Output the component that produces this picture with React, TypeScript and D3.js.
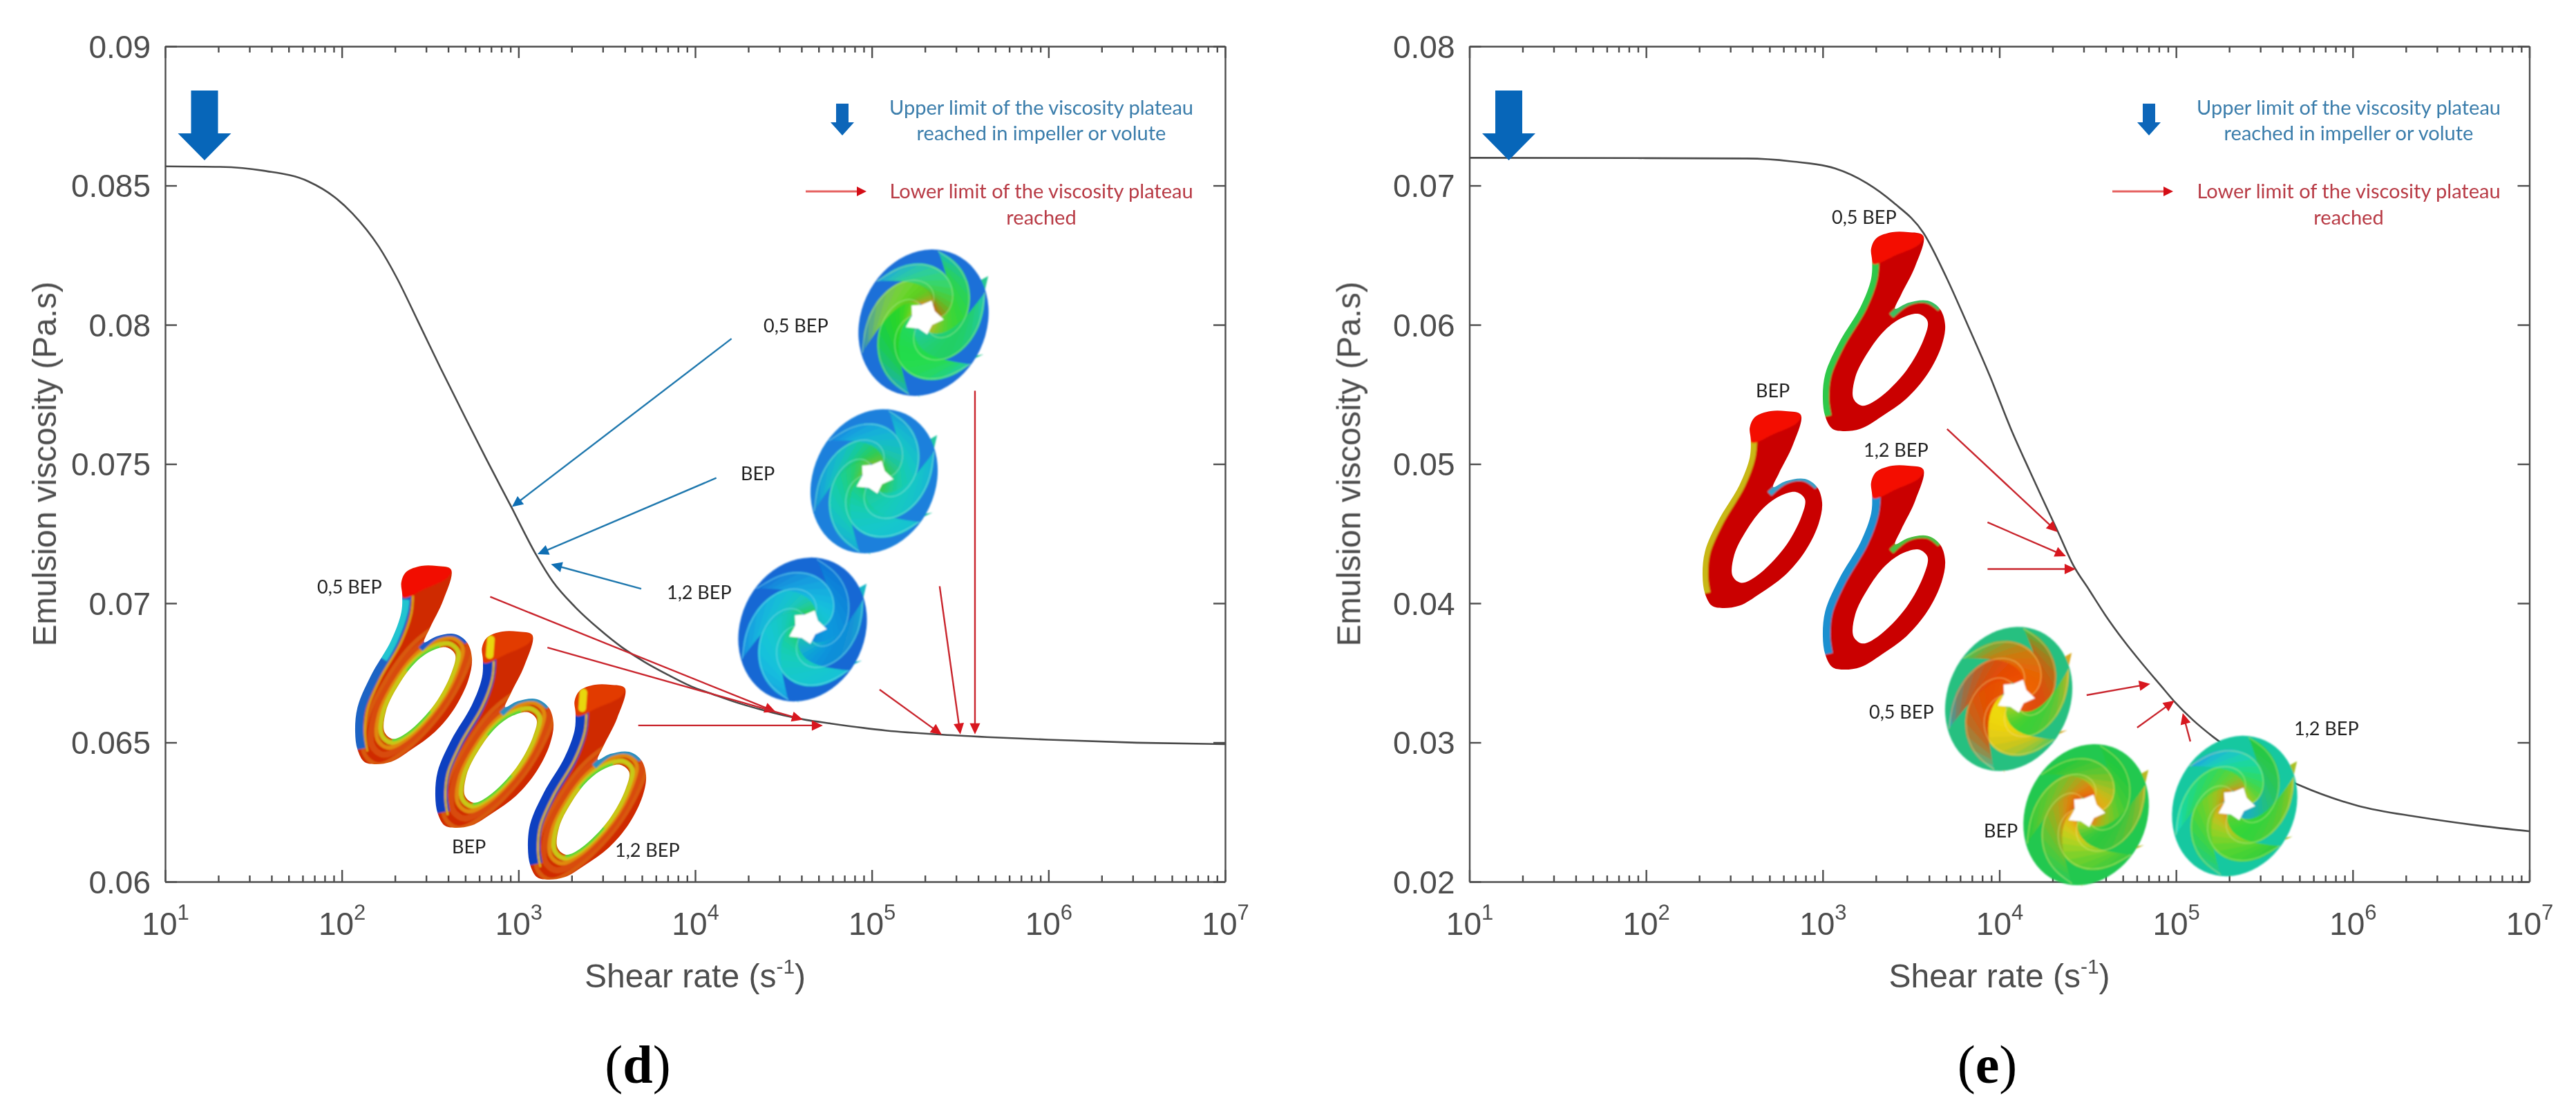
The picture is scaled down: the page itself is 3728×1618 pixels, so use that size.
import React, { useEffect, useRef } from 'react';
import * as d3 from 'd3';

// curve (d): log10 shear rate / viscosity
const logShearD = [1, 1.31, 1.56, 1.81, 1.96, 2.06, 2.21, 2.31, 2.43, 2.56, 2.7, 2.82, 2.96, 3.1, 3.194, 3.323, 3.455, 3.585, 3.714, 3.846, 3.976, 4.105, 4.237, 4.367, 4.496, 4.628, 4.758, 5.08, 5.4, 5.7, 6, 6.5, 7];
const viscosityD = [0.08569, 0.08567, 0.08553, 0.08515, 0.08458, 0.084, 0.0828, 0.0817, 0.08014, 0.07843, 0.07665, 0.07515, 0.07345, 0.07174, 0.07078, 0.06985, 0.06908, 0.06842, 0.06789, 0.06743, 0.06702, 0.06672, 0.06643, 0.06619, 0.06598, 0.06581, 0.06569, 0.06543, 0.06528, 0.06518, 0.0651, 0.06499, 0.06494];
// curve (e)
const logShearE = [1, 1.95, 2.57, 2.82, 3.07, 3.25, 3.4, 3.57, 3.7, 3.82, 3.95, 4.064, 4.169, 4.247, 4.338, 4.416, 4.507, 4.599, 4.703, 4.807, 4.912, 4.99, 5.094, 5.211, 5.7, 6.03, 6.37, 6.7, 7];
const viscosityE = [0.07199, 0.07197, 0.07194, 0.07174, 0.07123, 0.07017, 0.06878, 0.0666, 0.0634, 0.06, 0.0562, 0.05256, 0.04958, 0.04743, 0.04495, 0.04279, 0.04098, 0.03916, 0.03733, 0.03568, 0.03411, 0.03295, 0.03163, 0.03039, 0.02692, 0.02545, 0.02465, 0.02405, 0.02362];

const yTicksD = [0.06, 0.065, 0.07, 0.075, 0.08, 0.085, 0.09];
const yTicksE = [0.02, 0.03, 0.04, 0.05, 0.06, 0.07, 0.08];
const decades = [1e1, 1e2, 1e3, 1e4, 1e5, 1e6, 1e7];
const minorTicks = decades.slice(0, 6).flatMap(d => [2, 3, 4, 5, 6, 7, 8, 9].map(m => d * m));

// annotation arrows: [log10 shear, viscosity] start -> tip
type Arrow = number[];
const blueArrowsD: Arrow[] = [
  [4.206, 0.0795, 2.963, 0.07346],
  [4.12, 0.0745, 3.108, 0.07176],
  [3.695, 0.07052, 3.184, 0.0714],
];
const redArrowsD: Arrow[] = [
  [2.84, 0.07023, 4.456, 0.0661],
  [3.164, 0.06841, 4.61, 0.06582],
  [3.678, 0.06561, 4.723, 0.06561],
  [5.044, 0.0669, 5.396, 0.06528],
  [5.384, 0.07061, 5.501, 0.06529],
  [5.584, 0.07763, 5.584, 0.06529],
];
const redArrowsE: Arrow[] = [
  [3.704, 0.05251, 4.329, 0.04511],
  [3.933, 0.04581, 4.377, 0.04337],
  [3.933, 0.04246, 4.432, 0.04246],
  [4.494, 0.0334, 4.854, 0.03421],
  [4.78, 0.03107, 4.991, 0.033],
  [5.081, 0.03007, 5.038, 0.03211],
];

// outline of the volute casing, in its own 0..1 box
const voluteOuter = [[0.395, 0.083], [0.438, 0.03], [0.568, 0], [0.697, 0], [0.821, 0.018], [0.755, 0.172], [0.64, 0.314], [0.591, 0.385], [0.697, 0.355], [0.856, 0.344], [0.957, 0.385], [1, 0.465], [0.971, 0.571], [0.856, 0.713], [0.683, 0.837], [0.481, 0.926], [0.308, 0.988], [0.164, 1], [0.078, 0.988], [0.02, 0.926], [0, 0.837], [0.02, 0.713], [0.135, 0.553], [0.308, 0.376], [0.395, 0.234], [0.403, 0.145]];
const voluteHole = [[0.251, 0.837], [0.323, 0.872], [0.452, 0.837], [0.683, 0.695], [0.827, 0.535], [0.856, 0.447], [0.784, 0.411], [0.654, 0.429], [0.51, 0.491], [0.366, 0.606], [0.265, 0.73]];
const voluteCap = [[0.395, 0.083], [0.438, 0.03], [0.568, 0], [0.697, 0], [0.825, 0.018], [0.79, 0.06], [0.6, 0.115], [0.41, 0.16]];
const voluteSpine = [[0.41, 0.14], [0.395, 0.234], [0.308, 0.376], [0.135, 0.553], [0.02, 0.713], [0, 0.837], [0.02, 0.926]];
const voluteSpineTop = [[0.41, 0.17], [0.395, 0.234], [0.308, 0.376], [0.22, 0.47]];
const voluteRingTop = [[0.56, 0.42], [0.697, 0.355], [0.856, 0.344], [0.957, 0.385]];
const voluteBlob = [[0.47, 0.04], [0.46, 0.12]];

// spikes where the blades stick out past the shroud, as fractions of the impeller box
const bladeTips = [
  [[0.985, 0.19], [0.86, 0.25], [0.84, 0.52], [0.92, 0.44]],
  [[0.95, 0.71], [0.62, 0.76], [0.64, 0.84]],
  [[0.47, 0.995], [0.33, 0.84], [0.42, 0.85]],
];
const hubTeeth = [0.29, 0.2, 0.32, 0.18, 0.28, 0.2, 0.33, 0.19, 0.27, 0.2];

const font = 'Liberation Sans, Arial, sans-serif';
const noteFont = 'Lato, Open Sans, sans-serif';
const axisColor = '#4d4d4d';
const bigBlue = '#0766b9';
const lineBlue = '#1f78ae';
const lineRed = '#c9252d';

const closedLine = d3.line().curve(d3.curveCatmullRomClosed.alpha(0.5));
const openLine = d3.line().curve(d3.curveCatmullRom.alpha(0.5));
let clipCount = 0;

function drawVolute(g: any, box: number[], look: any) {
  const [x0, y0, w, h] = box;
  const sc = (pts: number[][]) => pts.map(([u, v]) => [x0 + u * w, y0 + v * h]) as [number, number][];
  const scaleAbout = (pts: number[][], k: number) => pts.map(([u, v]) => [0.55 + (u - 0.55) * k, 0.65 + (v - 0.65) * k]);
  const shape = closedLine(sc(voluteOuter)) + closedLine(sc(voluteHole));
  const id = `volute-${clipCount++}`;
  g.append('clipPath').attr('id', id).append('path').attr('d', shape).attr('clip-rule', 'evenodd');
  const v = g.append('g').attr('clip-path', `url(#${id})`).append('g').attr('filter', 'url(#soft)');
  v.append('rect').attr('x', x0 - 5).attr('y', y0 - 5).attr('width', w + 10).attr('height', h + 10).attr('fill', look.body);
  const stroke = (d: string, color: string, width: number) =>
    v.append('path').attr('d', d).attr('fill', 'none').attr('stroke', color).attr('stroke-width', width);
  if (look.bands) {
    const hole = (k: number) => closedLine(sc(scaleAbout(voluteHole, k)));
    stroke(hole(1.58), '#d85a0c', 6);
    stroke(hole(1.36), '#d84c08', 9);
    stroke(hole(1.2), '#e08a10', 6);
    stroke(hole(1.08), '#c8c818', 7);
    stroke(hole(1.02), '#58d838', 5).attr('stroke-dasharray', '70 120 60 160');
  }
  stroke(openLine(sc(voluteRingTop)), look.ringTop, look.ringWidth);
  stroke(openLine(sc(voluteSpine)), look.spine, look.spineWidth);
  if (look.spineInner) {
    stroke(openLine(sc(voluteSpine.map(([u, p]) => [u + 0.085, p + 0.01]))), look.spineInner, 3);
  }
  if (look.spineTop) stroke(openLine(sc(voluteSpineTop.map(([u, p]) => [u + 0.02, p]))), look.spineTop, 12);
  v.append('path').attr('d', closedLine(sc(voluteCap))).attr('fill', look.cap);
  if (look.blob) stroke(d3.line()(sc(voluteBlob)) as string, look.blob, 11).attr('stroke-linecap', 'round');
}

function drawImpeller(g: any, box: number[], hub: number[], look: any) {
  const [x0, y0, w, h] = box;
  const cx = x0 + w / 2, cy = y0 + h / 2;
  const wrap = g.append('g').attr('filter', 'url(#soft)');
  // tips first, they sit behind the rim edge
  bladeTips.forEach(tip => {
    wrap.append('path').attr('fill', look.tips)
      .attr('d', d3.line()(tip.map(([u, v]) => [x0 + u * w, y0 + v * h] as [number, number])) + 'Z');
  });
  const outer = wrap.append('g').attr('transform', `translate(${cx},${cy}) rotate(25)`);
  const a = h * 0.5, b = w * 0.47;
  outer.append('ellipse').attr('rx', b).attr('ry', a).attr('fill', look.rim);
  // hub position in the rotated frame
  const t = (25 * Math.PI) / 180;
  const dx = hub[0] - cx, dy = hub[1] - cy;
  const hx = dx * Math.cos(t) + dy * Math.sin(t);
  const hy = -dx * Math.sin(t) + dy * Math.cos(t);
  const bladeEdge = (start: number, p: number, side: number) => {
    const r = 0.18 + 0.8 * p;
    const ang = start - 2.15 * p + side * 0.66 * Math.sin(Math.PI * Math.min(1, p * 0.75 + 0.25));
    return [hx * (1 - p) + b * r * Math.cos(ang), hy * (1 - p) + a * r * Math.sin(ang)] as [number, number];
  };
  look.ramps.forEach((colors: string[], k: number) => {
    const start = (k * Math.PI) / 3 + 0.3;
    const paint = d3.interpolateRgbBasis(colors);
    for (let s = 0; s < 14; s++) {
      const wedge: [number, number][] = [];
      const p0 = s / 14, p1 = (s + 1.15) / 14;
      for (let i = 0; i <= 4; i++) wedge.push(bladeEdge(start, p0 + ((p1 - p0) * i) / 4, 1));
      for (let i = 4; i >= 0; i--) wedge.push(bladeEdge(start, p0 + ((p1 - p0) * i) / 4, -1));
      outer.append('path').attr('d', d3.line()(wedge) + 'Z').attr('fill', paint((s + 0.5) / 14));
    }
  });
  look.ramps.forEach((_: string[], k: number) => {
    const start = (k * Math.PI) / 3 + 0.3;
    const lip = d3.range(0, 1.01, 0.1).map(p => bladeEdge(start, p, 1));
    outer.append('path').attr('d', d3.line().curve(d3.curveBasis)(lip)).attr('fill', 'none')
      .attr('stroke', look.lip).attr('stroke-opacity', 0.45).attr('stroke-width', 1.6);
  });
  const star = d3.lineRadial().curve(d3.curveLinearClosed)(
    hubTeeth.map((r, i) => [(i * Math.PI) / 5, r * b] as [number, number]),
  );
  outer.append('path').attr('d', star).attr('transform', `translate(${hx},${hy})`).attr('fill', '#fff');
}

function drawArrow(g: any, x0: number, y0: number, x1: number, y1: number, color: string, headColor: string, width = 2.4, len = 16, half = 7.5) {
  const d = Math.hypot(x1 - x0, y1 - y0);
  const ux = (x1 - x0) / d, uy = (y1 - y0) / d;
  g.append('line').attr('x1', x0).attr('y1', y0).attr('x2', x1 - ux * len * 0.7).attr('y2', y1 - uy * len * 0.7)
    .attr('stroke', color).attr('stroke-width', width);
  const bx = x1 - ux * len, by = y1 - uy * len;
  g.append('path').attr('fill', headColor)
    .attr('d', `M${x1},${y1}L${bx - uy * half},${by + ux * half}L${bx + uy * half},${by - ux * half}Z`);
}

function drawBlockArrow(g: any, cx: number, top: number, tip: number, base: number, shaft: number, head: number) {
  const pts: [number, number][] = [[cx - shaft, top], [cx + shaft, top], [cx + shaft, base], [cx + head, base], [cx, tip], [cx - head, base], [cx - shaft, base]];
  g.append('path').attr('d', d3.line()(pts) + 'Z').attr('fill', bigBlue);
}

function drawPanel(svg: any, p: any) {
  const x = d3.scaleLog().domain([1e1, 1e7]).range([p.left, p.right]);
  const y = d3.scaleLinear().domain(p.yDomain).range([p.bottom, p.top]);
  const g = svg.append('g');

  const frame = g.append('g').attr('filter', 'url(#text)');
  const style = (sel: any) => {
    sel.selectAll('path,line').attr('stroke', axisColor).attr('stroke-width', 2.4);
  };
  // major + minor ticks on all four sides, inward
  const major = frame.append('g').attr('transform', `translate(0,${p.bottom})`)
    .call(d3.axisBottom(x).tickValues(decades).tickSize(-17).tickSizeOuter(0).tickFormat(() => '10'));
  major.call(style);
  major.selectAll('text')
    .attr('y', 77).attr('dy', 0).attr('fill', axisColor).attr('font-family', font).attr('font-size', 46)
    .append('tspan').attr('dy', -22).attr('font-size', 31).text((d: number) => Math.round(Math.log10(d)));
  frame.append('g').attr('transform', `translate(0,${p.bottom})`)
    .call(d3.axisBottom(x).tickValues(minorTicks).tickSize(-9).tickSizeOuter(0).tickFormat(() => ''))
    .call(style).call((a: any) => a.select('.domain').remove());
  frame.append('g').attr('transform', `translate(0,${p.top})`)
    .call(d3.axisTop(x).tickValues(decades).tickSize(-17).tickSizeOuter(0).tickFormat(() => ''))
    .call(style);
  frame.append('g').attr('transform', `translate(0,${p.top})`)
    .call(d3.axisTop(x).tickValues(minorTicks).tickSize(-9).tickSizeOuter(0).tickFormat(() => ''))
    .call(style).call((a: any) => a.select('.domain').remove());
  const yAxis = frame.append('g').attr('transform', `translate(${p.left},0)`)
    .call(d3.axisLeft(y).tickValues(p.yTicks).tickSize(-17).tickSizeOuter(0).tickPadding(21).tickFormat((d: any) => String(+d)));
  yAxis.call(style);
  yAxis.selectAll('text').attr('fill', axisColor).attr('font-family', font).attr('font-size', 46).attr('dy', '0.35em');
  frame.append('g').attr('transform', `translate(${p.right},0)`)
    .call(d3.axisRight(y).tickValues(p.yTicks).tickSize(-17).tickSizeOuter(0).tickFormat(() => ''))
    .call(style);

  frame.append('text').attr('transform', `translate(${p.left - 158},${(p.top + p.bottom) / 2}) rotate(-90)`)
    .attr('text-anchor', 'middle').attr('font-family', font).attr('font-size', 47.5).attr('fill', axisColor)
    .text('Emulsion viscosity (Pa.s)');
  const xt = frame.append('text').attr('x', p.left + 767).attr('y', 1429)
    .attr('text-anchor', 'middle').attr('font-family', font).attr('font-size', 48).attr('fill', axisColor);
  xt.append('tspan').text('Shear rate (s');
  xt.append('tspan').attr('dy', -20).attr('font-size', 30).text('-1');
  xt.append('tspan').attr('dy', 20).text(')');

  // the curve
  const line = d3.line<number>()
    .x((_, i) => x(Math.pow(10, p.logShear[i])))
    .y((d) => y(d))
    .curve(d3.curveMonotoneX);
  g.append('path').datum(p.viscosity).attr('d', line).attr('fill', 'none').attr('stroke', '#4a4a4a').attr('stroke-width', 2.6);

  p.volutes.forEach((v: any) => drawVolute(g, v.box, v.look));
  p.impellers.forEach((v: any) => drawImpeller(g, v.box, v.hub, v.look));

  const place = (list: Arrow[], color: string, head: string) => list.forEach(([a, b, c, d]) => {
    drawArrow(g, x(Math.pow(10, a)), y(b), x(Math.pow(10, c)), y(d), color, head);
  });
  place(p.blueArrows, lineBlue, '#0f6fb4');
  place(p.redArrows, lineRed, '#d8171f');

  // big arrow marks the upper plateau limit
  drawBlockArrow(g, p.left + 57, 131, 232, 193, 19.5, 38.5);

  // legend
  const lg = g.append('g').attr('filter', 'url(#text)');
  drawBlockArrow(lg, p.legendX, 150, 196, 177, 9, 17);
  drawArrow(lg, p.legendX - 53, 277, p.legendX + 35, 277, '#e5605f', '#d40f18', 3, 14, 7);
  const legendLines: [string, number, string][] = [
    ['Upper limit of the viscosity plateau', 156, '#3a7dab'],
    ['reached in impeller or volute', 193, '#3a7dab'],
    ['Lower limit of the viscosity plateau', 277, '#b83a45'],
    ['reached', 315, '#b83a45'],
  ];
  legendLines.forEach(([t, ty, c]) => lg.append('text').attr('x', p.legendText).attr('y', ty).attr('dy', '0.35em')
    .attr('text-anchor', 'middle').attr('font-family', noteFont).attr('font-size', 29).attr('fill', c).text(t));

  p.notes.forEach(([t, tx, ty]: [string, number, number]) => g.append('text').attr('x', tx).attr('y', ty).attr('dy', '0.35em')
    .attr('font-family', noteFont).attr('font-size', 27).attr('fill', '#222').attr('filter', 'url(#text)').text(t));

  svg.append('text').attr('x', p.captionX).attr('y', 1567).attr('text-anchor', 'middle')
    .attr('font-family', 'Liberation Serif, serif').attr('font-size', 78).attr('fill', '#000')
    .selectAll('tspan').data(['(', p.caption, ')']).join('tspan')
    .attr('font-weight', (_: string, i: number) => (i === 1 ? 'bold' : 'normal')).text((d: string) => d);
}

const stripedBody = { body: '#cf2c06', ringWidth: 8, bands: true };
const volA = { ...stripedBody, cap: '#f20e06', spine: '#1b64c4', spineWidth: 24, spineInner: '#d8a018', spineTop: '#20c4d0', ringTop: '#1f5cc8' };
const volB = { ...stripedBody, cap: '#e23a06', blob: '#e8d810', spine: '#0f3fc0', spineWidth: 36, spineInner: '#d8b018', ringTop: '#2a90c0' };
const solidRed = { body: '#ca0606', cap: '#f40a04', ringWidth: 8, bands: false };

// each impeller: one hub -> rim colour ramp per blade
const impBlueGreen = { rim: '#1f70d8', tips: '#28c890', lip: '#b8f0a0', ramps: [
  ['#c0b828', '#40d830', '#28d840', '#18b8c8'], ['#20c8a0', '#20d078', '#20d050', '#20c8c0'],
  ['#20d870', '#20d850', '#28e040', '#20c8b0'], ['#a0d020', '#20d820', '#20d040', '#18a8d0'],
  ['#e09020', '#30d820', '#a0d830', '#1880d8'], ['#d06010', '#40d820', '#30d8a0', '#18a0e0'],
] };
const impBlue = { rim: '#1a80dc', tips: '#20c8a0', lip: '#a0f0e0', ramps: [
  ['#40c840', '#18d0a0', '#18c8d0', '#1898d8'], ['#20c890', '#18d0b0', '#18c8c8', '#18b0d8'],
  ['#20d060', '#18d0a0', '#18c8d0', '#18c0d0'], ['#70c830', '#18d070', '#18d0c0', '#18a8d8'],
  ['#80c030', '#18d050', '#18c8d8', '#1888d8'], ['#40c840', '#18c8a8', '#18b8e0', '#1880e0'],
] };
const impDeep = { rim: '#1268d4', tips: '#18b8c8', lip: '#90e8f0', ramps: [
  ['#1088d8', '#10a0e0', '#1088d8', '#1070d8'], ['#18c0b0', '#10a8e0', '#1080d8', '#18b0d0'],
  ['#20d070', '#18d0b0', '#18c8d0', '#18c0d8'], ['#18d080', '#18c8c0', '#18c8e0', '#18a0e0'],
  ['#30d050', '#18c8c0', '#18c0e0', '#1888e0'], ['#18c0c0', '#18c8e0', '#18a0e0', '#1070d8'],
] };
const impHot = { rim: '#28c080', tips: '#d8a820', lip: '#f8e080', ramps: [
  ['#e85808', '#e04808', '#d85808', '#38c848'], ['#a0d020', '#40d030', '#30d040', '#d0b020'],
  ['#e8d010', '#f0e010', '#e8c010', '#40c860'], ['#e85808', '#e84c04', '#d85804', '#40c8a0'],
  ['#ee5404', '#e84804', '#d85008', '#20b0c0'], ['#f06804', '#ec5c04', '#d87808', '#30d060'],
] };
const impWarm = { rim: '#20c850', tips: '#b8b820', lip: '#e8f080', ramps: [
  ['#e88010', '#90d020', '#20c840', '#20c840'], ['#b0d020', '#20c840', '#30c840', '#c0b020'],
  ['#e89010', '#e8d818', '#60d030', '#30c840'], ['#e05808', '#e89010', '#50d030', '#20c860'],
  ['#e85c08', '#e88810', '#60d030', '#20c840'], ['#e8a010', '#d8c018', '#30c838', '#20c840'],
] };
const impCool = { rim: '#18c8a0', tips: '#a8c020', lip: '#d0f090', ramps: [
  ['#20a8c8', '#18b8b0', '#30c848', '#20c840'], ['#60d030', '#30d838', '#30d040', '#b0c018'],
  ['#e09018', '#c8d020', '#40d830', '#30c840'], ['#d88010', '#a0d020', '#30d838', '#20c8a0'],
  ['#d88820', '#70d828', '#20d860', '#18d8d0'], ['#c0c820', '#30d838', '#18e0c0', '#2098e0'],
] };

const panelD = {
  left: 239, right: 1773, top: 67, bottom: 1276, yDomain: [0.06, 0.09], yTicks: yTicksD,
  logShear: logShearD, viscosity: viscosityD, blueArrows: blueArrowsD, redArrows: redArrowsD,
  legendX: 1219, legendText: 1507, caption: 'd', captionX: 923,
  volutes: [
    { box: [514, 819, 169, 287], look: volA },
    { box: [630, 914, 171, 284], look: volB },
    { box: [764, 991, 171, 282], look: volB },
  ],
  impellers: [
    { box: [1240, 358, 193, 218], hub: [1337, 459], look: impBlueGreen },
    { box: [1171, 589, 188, 215], hub: [1265, 690], look: impBlue },
    { box: [1066, 804, 191, 214], hub: [1168, 907], look: impDeep },
  ],
  notes: [
    ['0,5 BEP', 459, 850], ['BEP', 654, 1226], ['1,2 BEP', 890, 1231],
    ['0,5 BEP', 1105, 472], ['BEP', 1072, 686], ['1,2 BEP', 965, 858],
  ],
};

const panelE = {
  left: 2126.5, right: 3660.5, top: 67, bottom: 1276, yDomain: [0.02, 0.08], yTicks: yTicksE,
  logShear: logShearE, viscosity: viscosityE, blueArrows: [], redArrows: redArrowsE,
  legendX: 3110, legendText: 3399, caption: 'e', captionX: 2876,
  volutes: [
    { box: [2638, 336, 177, 288], look: { ...solidRed, spine: '#2ec848', spineWidth: 18, ringTop: '#38c060' } },
    { box: [2464, 595, 173, 285], look: { ...solidRed, spine: '#c8b818', spineWidth: 16, ringTop: '#38a0c8' } },
    { box: [2638, 674, 177, 295], look: { ...solidRed, spine: '#1c90d0', spineWidth: 22, ringTop: '#48c040' } },
  ],
  impellers: [
    { box: [2813, 904, 188, 215], hub: [2917, 1007], look: impHot },
    { box: [2926, 1074, 186, 210], hub: [3019, 1173], look: impWarm },
    { box: [3141, 1062, 186, 209], hub: [3236, 1163], look: impCool },
  ],
  notes: [
    ['0,5 BEP', 2651, 315], ['BEP', 2541, 566], ['1,2 BEP', 2697, 652],
    ['0,5 BEP', 2705, 1031], ['BEP', 2871, 1203], ['1,2 BEP', 3320, 1055],
  ],
};

export default function App() {
  const ref = useRef<SVGSVGElement>(null);

  useEffect(() => {
    const svg = d3.select(ref.current);
    svg.selectAll('*').remove();
    clipCount = 0;
    const defs = svg.append('defs');
    defs.append('filter').attr('id', 'soft').append('feGaussianBlur').attr('stdDeviation', 1.1);
    defs.append('filter').attr('id', 'text').attr('x', '-5%').attr('y', '-5%').attr('width', '110%').attr('height', '110%')
      .append('feGaussianBlur').attr('stdDeviation', 0.7);
    drawPanel(svg, panelD);
    drawPanel(svg, panelE);
  }, []);

  return (
    <svg ref={ref} width={3728} height={1618}
      style={{ position: 'absolute', left: 0, top: 0, background: '#fff' }} />
  );
}
